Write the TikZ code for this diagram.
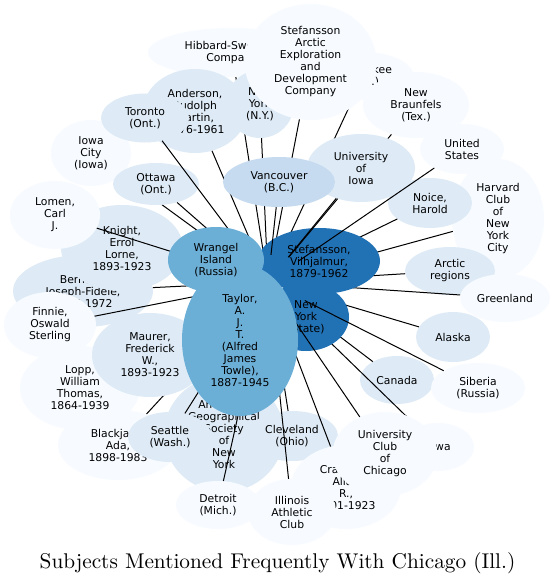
\documentclass[tikz,border=0pt]{standalone}
\usepackage{fontspec}
\newfontfamily\nodefont{DejaVu Sans}
\newfontfamily\titlefont{lmroman10-regular.otf}
\usetikzlibrary{shapes.geometric}
\definecolor{cA}{HTML}{2171B5}
\definecolor{cB}{HTML}{6BAED6}
\definecolor{cC}{HTML}{C6DBEF}
\definecolor{cD}{HTML}{DEEBF7}
\definecolor{cE}{HTML}{F7FBFF}
\tikzset{
  subj/.style={ellipse, draw=none, inner sep=0pt, align=center, text=black,
    font=\nodefont\fontsize{10.8}{12}\selectfont},
  link/.style={draw=black, line width=1pt},
  hubnode/.style={ellipse, draw=none, inner sep=0pt, minimum width=100pt, minimum height=54pt},
  titlenode/.style={font=\titlefont\fontsize{21.3}{25}\selectfont, anchor=base, inner sep=0pt}
}
\begin{document}
\begin{tikzpicture}[x=1pt,y=-1pt]
\fill[white] (0,0) rectangle (555,583);
\useasboundingbox (0,0) rectangle (555,583);
\node[hubnode] (hub) at (268,282) {};
\node[subj, fill=cE, minimum width=168pt, minimum height=49pt] (hib) at (232,52.5) {Hibbard-Swenson\\Company};
\draw[link] (hub) -- (hib);
\node[subj, fill=cD, minimum width=104pt, minimum height=84pt] (and) at (195,111) {Anderson,\\Rudolph\\Martin,\\1876-1961};
\draw[link] (hub) -- (and);
\node[subj, fill=cD, minimum width=68pt, minimum height=68pt] (nyny) at (260,104) {New\\York\\(N.Y.)};
\draw[link] (hub) -- (nyny);
\node[subj, fill=cE, minimum width=100pt, minimum height=48pt] (mil) at (363.5,76) {Milwaukee\\(Wis.)};
\draw[link] (hub) -- (mil);
\node[subj, fill=cE, minimum width=132pt, minimum height=116pt] (sa) at (310.5,62) {Stefansson\\Arctic\\Exploration\\and\\Development\\Company};
\draw[link] (hub) -- (sa);
\node[subj, fill=cE, minimum width=80pt, minimum height=66pt] (ioc) at (91,153) {Iowa\\City\\(Iowa)};
\draw[link] (hub) -- (ioc);
\node[subj, fill=cD, minimum width=86pt, minimum height=42pt] (ott) at (156,184) {Ottawa\\(Ont.)};
\draw[link] (hub) -- (ott);
\node[subj, fill=cD, minimum width=88pt, minimum height=49pt] (tor) at (145,118) {Toronto\\(Ont.)};
\draw[link] (hub) -- (tor);
\node[subj, fill=cE, minimum width=92pt, minimum height=120pt] (har) at (498,219) {Harvard\\Club\\of\\New\\York\\City};
\draw[link] (hub) -- (har);
\node[subj, fill=cD, minimum width=84pt, minimum height=50pt] (noi) at (430,203) {Noice,\\Harold};
\draw[link] (hub) -- (noi);
\node[subj, fill=cD, minimum width=90pt, minimum height=48pt] (arc) at (450,271) {Arctic\\regions};
\draw[link] (hub) -- (arc);
\node[subj, fill=cE, minimum width=90pt, minimum height=48pt] (gre) at (505,298) {Greenland};
\draw[link] (hub) -- (gre);
\node[subj, fill=cA, minimum width=122pt, minimum height=66pt] (ste) at (319,261) {Stefansson,\\Vilhjalmur,\\1879-1962};
\node[subj, fill=cE, minimum width=106pt, minimum height=66pt] (nb) at (416,105) {New\\Braunfels\\(Tex.)};
\draw[link] (hub) -- (nb);
\node[subj, fill=cD, minimum width=108pt, minimum height=68pt] (uio) at (361,168) {University\\of\\Iowa};
\draw[link] (hub) -- (uio);
\node[subj, fill=cE, minimum width=84pt, minimum height=50pt] (us) at (462,149) {United\\States};
\draw[link] (hub) -- (us);
\node[subj, fill=cC, minimum width=112pt, minimum height=50pt] (van) at (279,182) {Vancouver\\(B.C.)};
\draw[link] (hub) -- (van);
\node[subj, fill=cD, minimum width=140pt, minimum height=72pt] (ber) at (83,291) {Bernard,\\Joseph-Fidèle,\\1895-1972};
\draw[link] (hub) -- (ber);
\node[subj, fill=cD, minimum width=122pt, minimum height=86pt] (kni) at (122,248) {Knight,\\Errol\\Lorne,\\1893-1923};
\draw[link] (hub) -- (kni);
\node[subj, fill=cE, minimum width=90pt, minimum height=68pt] (lom) at (55,215) {Lomen,\\Carl\\J.};
\draw[link] (hub) -- (lom);
\node[subj, fill=cE, minimum width=92pt, minimum height=66pt] (fin) at (50,325) {Finnie,\\Oswald\\Sterling};
\draw[link] (hub) -- (fin);
\node[subj, fill=cD, minimum width=74pt, minimum height=50pt] (ala) at (453,337) {Alaska};
\draw[link] (hub) -- (ala);
\node[subj, fill=cD, minimum width=74pt, minimum height=48pt] (can) at (397,380) {Canada};
\draw[link] (hub) -- (can);
\node[subj, fill=cE, minimum width=72pt, minimum height=48pt] (iow) at (438,447) {Iowa};
\draw[link] (hub) -- (iow);
\node[subj, fill=cA, minimum width=86pt, minimum height=68pt] (nys) at (306,317) {New\\York\\(State)};
\node[subj, fill=cE, minimum width=94pt, minimum height=50pt] (sib) at (478,388) {Siberia\\(Russia)};
\draw[link] (hub) -- (sib);
\node[subj, fill=cD, minimum width=120pt, minimum height=116pt] (ags) at (224,434) {American\\Geographical\\Society\\of\\New\\York};
\draw[link] (hub) -- (ags);
\node[subj, fill=cE, minimum width=84pt, minimum height=48pt] (det) at (218,505) {Detroit\\(Mich.)};
\draw[link] (hub) -- (det);
\node[subj, fill=cD, minimum width=92pt, minimum height=50pt] (cle) at (292,436) {Cleveland\\(Ohio)};
\draw[link] (hub) -- (cle);
\node[subj, fill=cE, minimum width=110pt, minimum height=84pt] (cra) at (346,487) {Crawford,\\Allan\\R.,\\1901-1923};
\draw[link] (hub) -- (cra);
\node[subj, fill=cE, minimum width=105pt, minimum height=84pt] (ucc) at (385,454) {University\\Club\\of\\Chicago};
\draw[link] (hub) -- (ucc);
\node[subj, fill=cE, minimum width=88pt, minimum height=66pt] (iac) at (292,512) {Illinois\\Athletic\\Club};
\draw[link] (hub) -- (iac);
\node[subj, fill=cE, minimum width=120pt, minimum height=84pt] (lop) at (80,388) {Lopp,\\William\\Thomas,\\1864-1939};
\draw[link] (hub) -- (lop);
\node[subj, fill=cE, minimum width=120pt, minimum height=70pt] (bla) at (118,445) {Blackjack,\\Ada,\\1898-1983};
\draw[link] (hub) -- (bla);
\node[subj, fill=cD, minimum width=116pt, minimum height=84pt] (mau) at (150,355) {Maurer,\\Frederick\\W.,\\1893-1923};
\draw[link] (hub) -- (mau);
\node[subj, fill=cD, minimum width=84pt, minimum height=50pt] (sea) at (170,437) {Seattle\\(Wash.)};
\draw[link] (hub) -- (sea);
\node[subj, fill=cB, minimum width=116pt, minimum height=152pt] (tay) at (240,340) {Taylor,\\A.\\J.\\T.\\(Alfred\\James\\Towle),\\1887-1945};
\node[subj, fill=cB, minimum width=96pt, minimum height=66pt] (wra) at (216,260) {Wrangel\\Island\\(Russia)};
\node[titlenode] (title) at (277.5,568) {Subjects Mentioned Frequently With Chicago (Ill.)};
\end{tikzpicture}
\end{document}
